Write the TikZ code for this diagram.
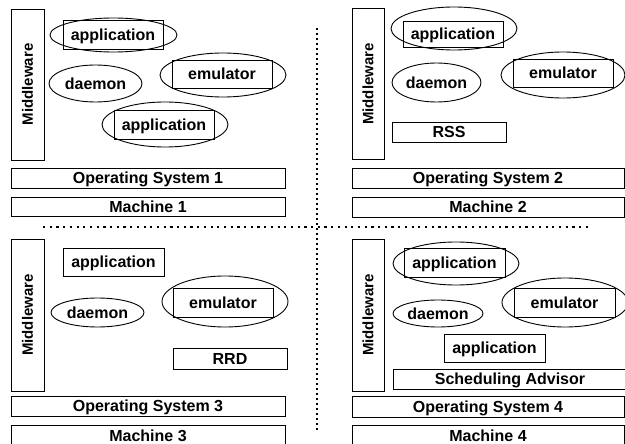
\documentclass[tikz,border=0pt]{standalone}
\usepackage{fontspec}
\setmainfont{Liberation Sans}
\usetikzlibrary{shapes.geometric}

\begin{document}
\begin{tikzpicture}[x=1pt,y=-1pt,line width=0.9pt]
		\tikzstyle{every node}+=[inner sep=0pt,text height=11.5pt,text depth=0pt,font=\fontsize{16}{18}\selectfont\bfseries]
		\tikzstyle{layer}=[draw,rectangle]
		\tikzstyle{proc}=[draw,ellipse]
		\tikzstyle{mid}=[layer,rotate=90,font=\fontsize{15}{17}\selectfont\bfseries,text height=10.8pt]
		\tikzstyle{sep}=[line width=2.6pt]
		\useasboundingbox (0,0) rectangle (625,444);
		\node [mid,minimum width=151,minimum height=33] (mw1) at (27.5,84.5) {Middleware};
		\node [proc,minimum width=127,minimum height=34] (app1o) at (113.5,35) {};
		\node [layer,minimum width=100,minimum height=29] (app1) at (113,34.5) {application};
		\node [proc,minimum width=93,minimum height=37] (dmn1) at (95.5,83.5) {daemon};
		\node [proc,minimum width=126,minimum height=44] (emu1o) at (223,75) {};
		\node [layer,minimum width=100,minimum height=28] (emu1) at (222,74) {emulator};
		\node [proc,minimum width=126,minimum height=45] (app1bo) at (165,124.5) {};
		\node [layer,minimum width=100,minimum height=29] (app1b) at (164,124.5) {application};
		\node [layer,minimum width=274,minimum height=20] (os1) at (148,178) {Operating System 1};
		\node [layer,minimum width=274,minimum height=19] (m1) at (148,206.5) {Machine 1};
		\node [mid,minimum width=151,minimum height=32] (mw2) at (368,84) {Middleware};
		\node [proc,minimum width=126,minimum height=43] (app2o) at (454,28.5) {};
		\node [layer,minimum width=100,minimum height=26] (app2) at (453,34) {application};
		\node [proc,minimum width=89,minimum height=39] (dmn2) at (436.5,82.5) {daemon};
		\node [proc,minimum width=124,minimum height=46] (emu2o) at (563,75) {};
		\node [layer,minimum width=100,minimum height=28] (emu2) at (563,73) {emulator};
		\node [layer,minimum width=114,minimum height=20] (rss) at (449,132) {RSS};
		\node [layer,minimum width=272,minimum height=20] (os2) at (488,178) {Operating System 2};
		\node [layer,minimum width=272,minimum height=20] (m2) at (488,207) {Machine 2};
		\node [mid,minimum width=152,minimum height=33] (mw3) at (27.5,315) {Middleware};
		\node [layer,minimum width=101,minimum height=28] (app3) at (113.5,262) {application};
		\node [proc,minimum width=93,minimum height=29] (dmn3) at (97.5,312.5) {daemon};
		\node [proc,minimum width=126,minimum height=51] (emu3o) at (225,301.5) {};
		\node [layer,minimum width=100,minimum height=29] (emu3) at (223,302.5) {emulator};
		\node [layer,minimum width=114,minimum height=21] (rrd) at (230,358.5) {RRD};
		\node [layer,minimum width=274,minimum height=20] (os3) at (148,406) {Operating System 3};
		\node [layer,minimum width=274,minimum height=22] (m3) at (148,436) {Machine 3};
		\node [mid,minimum width=152,minimum height=32] (mw4) at (368,315) {Middleware};
		\node [proc,minimum width=126,minimum height=43] (app4o) at (456,263.5) {};
		\node [layer,minimum width=101,minimum height=29] (app4) at (454.5,262.5) {application};
		\node [proc,minimum width=90,minimum height=27] (dmn4) at (438,313.5) {daemon};
		\node [proc,minimum width=126,minimum height=49] (emu4o) at (565,302.5) {};
		\node [layer,minimum width=101,minimum height=29] (emu4) at (564.5,302.5) {emulator};
		\node [layer,minimum width=101,minimum height=28] (app4b) at (494.5,348) {application};
		\node [layer,minimum width=234,minimum height=20] (sched) at (510,379) {Scheduling Advisor};
		\node [layer,minimum width=272,minimum height=21] (os4) at (488,406.5) {Operating System 4};
		\node [layer,minimum width=272,minimum height=22] (m4) at (488,436) {Machine 4};
		\coordinate (vtop) at (317,28);
		\coordinate (vbot) at (317,430);
		\coordinate (hl) at (43,227);
		\coordinate (hr) at (592,227);
		\draw [sep,dash pattern=on 2.2pt off 2.8pt] (vtop) -- (vbot);
		\draw [sep,dash pattern=on 2.2pt off 4.5pt] (hl) -- (hr);
	\end{tikzpicture}
\end{document}
